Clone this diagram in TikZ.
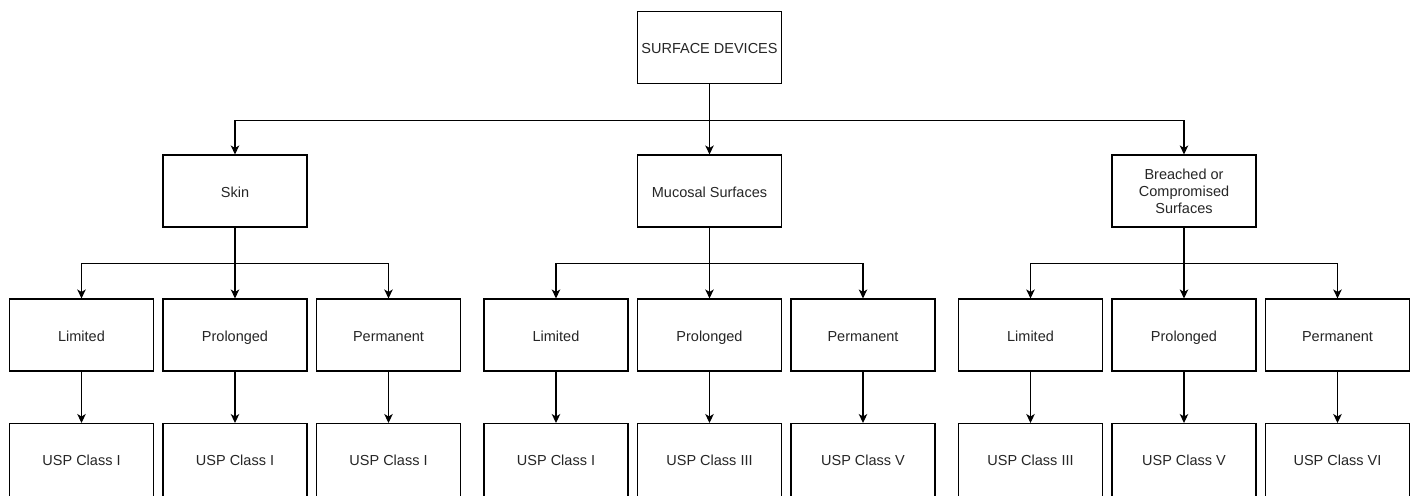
\documentclass[tikz,border=0pt]{standalone}
\usepackage{fontspec}
\setmainfont{Liberation Sans}
\usetikzlibrary{arrows.meta}
\begin{document}
\begin{tikzpicture}[x=1pt,y=-1pt,
  box/.style={draw=black,line width=1.1pt,fill=white,minimum width=144pt,minimum height=72pt,inner sep=0pt,align=center,font=\fontsize{14.5pt}{17pt}\selectfont,text=black!85},
  onebox/.style={box,text height=12pt,text depth=0pt},
  conn/.style={draw=black,line width=1.1pt,-{Stealth[length=9pt,width=8.5pt,inset=2.5pt]}}]
\useasboundingbox (0,0) rectangle (1415,495);
\clip (0,0) rectangle (1415,495);
\node[onebox] (root) at (709.5,47.5) {SURFACE DEVICES};
\node[onebox] (skin) at (235,191) {Skin};
\node[onebox] (muc) at (709.5,191) {Mucosal Surfaces};
\node[box] (br) at (1184,191) {\raisebox{-1pt}{\parbox{140pt}{\centering Breached or\\Compromised\\Surfaces}}};
% third row
\node[onebox] (s1) at (81.5,335) {Limited};
\node[onebox] (s2) at (235,335) {Prolonged};
\node[onebox] (s3) at (388.5,335) {Permanent};
\node[onebox] (m1) at (556,335) {Limited};
\node[onebox] (m2) at (709.5,335) {Prolonged};
\node[onebox] (m3) at (863,335) {Permanent};
\node[onebox] (b1) at (1030.5,335) {Limited};
\node[onebox] (b2) at (1184,335) {Prolonged};
\node[onebox] (b3) at (1337.5,335) {Permanent};
% fourth row (cut by the bottom margin)
\begin{scope}[every node/.append style={onebox,anchor=north,minimum height=90pt}]
\node (s1c) at (81.5,423) {\raisebox{9pt}{USP Class I}};
\node (s2c) at (235,423) {\raisebox{9pt}{USP Class I}};
\node (s3c) at (388.5,423) {\raisebox{9pt}{USP Class I}};
\node (m1c) at (556,423) {\raisebox{9pt}{USP Class I}};
\node (m2c) at (709.5,423) {\raisebox{9pt}{USP Class III}};
\node (m3c) at (863,423) {\raisebox{9pt}{USP Class V}};
\node (b1c) at (1030.5,423) {\raisebox{9pt}{USP Class III}};
\node (b2c) at (1184,423) {\raisebox{9pt}{USP Class V}};
\node (b3c) at (1337.5,423) {\raisebox{9pt}{USP Class VI}};
\end{scope}
% connectors
\draw[conn] (root.south) -- (muc.north);
\draw[conn] (root.south) -- ++(0,36) -| (skin.north);
\draw[conn] (root.south) -- ++(0,36) -| (br.north);
\foreach \p/\a/\b/\c in {skin/s1/s2/s3, muc/m1/m2/m3, br/b1/b2/b3}{
  \draw[conn] (\p.south) -- (\b.north);
  \draw[conn] (\p.south) -- ++(0,36) -| (\a.north);
  \draw[conn] (\p.south) -- ++(0,36) -| (\c.north);
}
\foreach \a in {s1,s2,s3,m1,m2,m3,b1,b2,b3}{
  \draw[conn] (\a.south) -- (\a c.north);
}
\end{tikzpicture}
\end{document}
